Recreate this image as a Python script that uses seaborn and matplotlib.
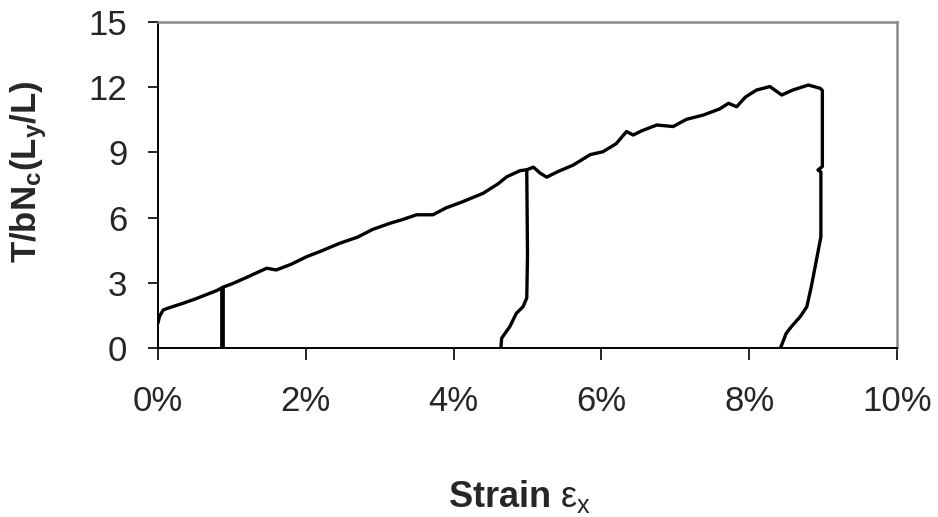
import numpy as np
import pandas as pd
import matplotlib
matplotlib.use("Agg")
import matplotlib.pyplot as plt
import seaborn as sns

# ---- data (strain in %, normalised load) ----
load1_strain = [0.00, 0.02, 0.07, 0.15, 0.34, 0.50, 0.65, 0.80, 0.88, 1.00, 1.20, 1.47,
                1.60, 1.80, 2.01, 2.20, 2.46, 2.70, 2.90, 3.14, 3.30, 3.50, 3.72, 3.90,
                4.10, 4.40, 4.60, 4.72, 4.90, 4.99,
                5.00, 4.99, 4.94, 4.85, 4.76, 4.65, 4.64]
load1_value = [1.15, 1.45, 1.75, 1.85, 2.06, 2.25, 2.45, 2.65, 2.80, 2.95, 3.25, 3.67,
               3.59, 3.85, 4.20, 4.45, 4.82, 5.10, 5.45, 5.74, 5.90, 6.13, 6.13, 6.45,
               6.70, 7.12, 7.55, 7.88, 8.16, 8.20,
               4.30, 2.30, 1.90, 1.60, 0.98, 0.45, 0.00]

drop1_strain = [0.87, 0.87]
drop1_value = [2.78, 0.00]

load2_strain = [4.99, 5.08, 5.17, 5.26, 5.40, 5.62, 5.85, 6.02, 6.20, 6.34, 6.43, 6.55,
                6.75, 6.97, 7.15, 7.38, 7.60, 7.72, 7.83, 7.95, 8.10, 8.28, 8.44, 8.59,
                8.80, 8.96, 8.99, 8.99, 8.93, 8.97, 8.97, 8.91, 8.84, 8.78, 8.69, 8.57,
                8.50, 8.44, 8.42]
load2_value = [8.20, 8.32, 8.05, 7.86, 8.10, 8.42, 8.90, 9.03, 9.40, 9.96, 9.80, 10.00,
               10.26, 10.19, 10.52, 10.72, 11.00, 11.26, 11.10, 11.55, 11.87, 12.03, 11.64, 11.87,
               12.10, 11.95, 11.85, 8.35, 8.19, 8.10, 5.12, 4.05, 2.82, 1.90, 1.44, 0.98,
               0.67, 0.14, 0.00]

x_ticks = [0, 2, 4, 6, 8, 10]
x_tick_labels = ["0%", "2%", "4%", "6%", "8%", "10%"]
y_ticks = [0, 3, 6, 9, 12, 15]

# ---- style ----
sns.set_style("white")
plt.rcParams["font.family"] = ["Liberation Sans", "DejaVu Sans"]
plt.rcParams["mathtext.fontset"] = "custom"
plt.rcParams["mathtext.rm"] = "Liberation Sans"
plt.rcParams["mathtext.bf"] = "Liberation Sans:bold"
plt.rcParams["mathtext.it"] = "Liberation Sans:italic"

df_main = pd.DataFrame({
    "strain": load1_strain + load2_strain,
    "load": load1_value + load2_value,
    "seg": ["a"] * len(load1_strain) + ["b"] * len(load2_strain),
})
df_drop = pd.DataFrame({"strain": drop1_strain, "load": drop1_value, "seg": ["c"] * 2})

fig = plt.figure(figsize=(9.38, 5.17), dpi=100)
ax = fig.add_axes([158 / 938, 1 - 348 / 517, 739 / 938, 326 / 517])

sns.lineplot(data=df_main, x="strain", y="load", units="seg", estimator=None,
             sort=False, color="black", lw=2.4, ax=ax, legend=False)
sns.lineplot(data=df_drop, x="strain", y="load", units="seg", estimator=None,
             sort=False, color="black", lw=3.4, ax=ax, legend=False)

ax.set_xlim(0, 10)
ax.set_ylim(0, 15)
ax.set_xticks(x_ticks)
ax.set_xticklabels(x_tick_labels)
ax.set_yticks(y_ticks)

for s in ["left", "bottom"]:
    ax.spines[s].set_color("black")
    ax.spines[s].set_linewidth(1.4)
for s in ["top", "right"]:
    ax.spines[s].set_color("#8a8a8a")
    ax.spines[s].set_linewidth(1.8)

ax.tick_params(axis="y", direction="out", length=7, width=1.2, color="black",
               labelsize=25, pad=15, left=True)
ax.tick_params(axis="x", direction="out", length=8.5, width=1.2, color="black",
               labelsize=25, pad=18, bottom=True)

ax.set_ylabel(r"$\mathbf{T/bN_c(L_y/L)}$", fontsize=25)
ax.yaxis.set_label_coords(-0.148, 0.54)
ax.set_xlabel(r"$\mathbf{Strain}\ \mathrm{\varepsilon_{x}}$", fontsize=26)
ax.xaxis.set_label_coords(0.49, -0.40)

fig.savefig("out.png", dpi=100)
